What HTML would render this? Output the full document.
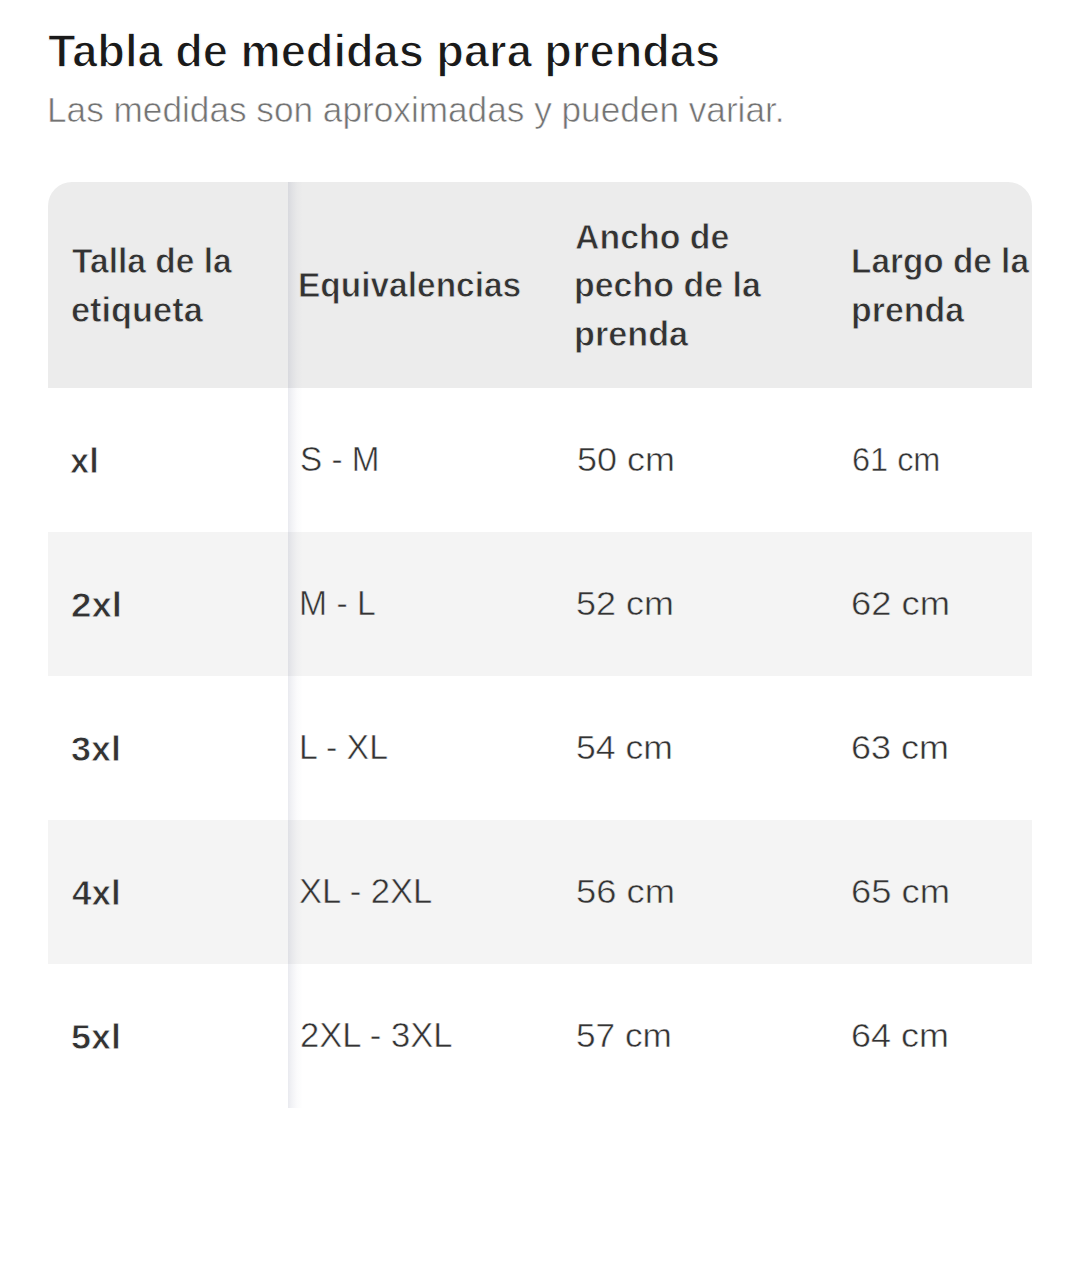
<!DOCTYPE html>
<html>
<head>
<meta charset="utf-8">
<style>
html,body{margin:0;padding:0;background:#fff;width:1080px;height:1285px;overflow:hidden;}
body{font-family:"Liberation Sans",sans-serif;position:relative;}
.t{position:absolute;white-space:nowrap;line-height:1;}
.title{font-weight:bold;color:#1a1a1a;}
.sub{color:#737373;}
#tbl{position:absolute;left:48px;top:182px;width:984px;height:926px;overflow:hidden;border-radius:24px 24px 0 0;}
.hdr{position:absolute;left:0;top:0;width:984px;height:206px;background:#ececec;}
.row{position:absolute;left:0;width:984px;height:144px;background:#fff;}
.row.g{background:#f4f4f4;}
.sh{position:absolute;left:240px;top:0;width:16px;height:926px;background:linear-gradient(to right,rgba(40,50,100,0.10) 0px,rgba(40,50,100,0.06) 4px,rgba(40,50,100,0.02) 9px,rgba(40,50,100,0) 15px);}
.h{font-weight:bold;color:#333;}
.c{color:#333;}
.b{font-weight:bold;color:#333;}
.title{-webkit-text-stroke:1.3px #fff;}
.sub{-webkit-text-stroke:0.6px #fff;}
.h{-webkit-text-stroke:0.76px #ececec;}
.b{-webkit-text-stroke:0.76px #fff;}
.c{-webkit-text-stroke:0.5px #fff;}
.b.gr{-webkit-text-stroke-color:#f4f4f4;}
.c.gr{-webkit-text-stroke-color:#f4f4f4;}

</style>
</head>
<body>
<div class="t title" style="left:48.00px;top:27.75px;font-size:46.48px"><span style="display:inline-block;transform:scaleX(0.9723);transform-origin:0 0">Tabla de medidas para prendas</span></div>
<div class="t sub" style="left:47.20px;top:92.10px;font-size:35.14px"><span style="display:inline-block;transform:scaleX(1.0020);transform-origin:0 0">Las medidas son aproximadas y pueden variar.</span></div>
<div id="tbl">
<div class="hdr"></div>
<div class="row" style="top:206px"></div>
<div class="row g" style="top:350px"></div>
<div class="row" style="top:494px"></div>
<div class="row g" style="top:638px"></div>
<div class="row" style="top:782px"></div>
<div class="t h" style="left:24.00px;top:61.80px;font-size:35.66px"><span style="display:inline-block;transform:scaleX(0.9402);transform-origin:0 0">Talla de la</span></div>
<div class="t h" style="left:23.00px;top:110.90px;font-size:35.43px"><span style="display:inline-block;transform:scaleX(0.9706);transform-origin:0 0">etiqueta</span></div>
<div class="t h" style="left:250.00px;top:85.35px;font-size:35.33px"><span style="display:inline-block;transform:scaleX(0.9473);transform-origin:0 0">Equivalencias</span></div>
<div class="t h" style="left:527.00px;top:36.70px;font-size:35.21px"><span style="display:inline-block;transform:scaleX(0.9620);transform-origin:0 0">Ancho de</span></div>
<div class="t h" style="left:526.00px;top:85.70px;font-size:35.43px"><span style="display:inline-block;transform:scaleX(0.9584);transform-origin:0 0">pecho de la</span></div>
<div class="t h" style="left:526.00px;top:135.10px;font-size:35.43px"><span style="display:inline-block;transform:scaleX(0.9658);transform-origin:0 0">prenda</span></div>
<div class="t h" style="left:803.00px;top:62.10px;font-size:35.51px"><span style="display:inline-block;transform:scaleX(0.9396);transform-origin:0 0">Largo de la</span></div>
<div class="t h" style="left:803.00px;top:111.10px;font-size:35.43px"><span style="display:inline-block;transform:scaleX(0.9568);transform-origin:0 0">prenda</span></div>
<div class="t b" style="left:22.00px;top:261.50px;font-size:35.81px"><span style="display:inline-block;transform:scaleX(0.9617);transform-origin:0 0">xl</span></div>
<div class="t c" style="left:252.00px;top:259.90px;font-size:34.59px"><span style="display:inline-block;transform:scaleX(0.9612);transform-origin:0 0">S - M</span></div>
<div class="t c" style="left:528.50px;top:259.70px;font-size:34.00px"><span style="display:inline-block;transform:scaleX(1.0565);transform-origin:0 0">50 cm</span></div>
<div class="t c" style="left:804.00px;top:259.70px;font-size:34.00px"><span style="display:inline-block;transform:scaleX(0.9549);transform-origin:0 0">61 cm</span></div>
<div class="t b gr" style="left:23.00px;top:405.50px;font-size:35.81px"><span style="display:inline-block;transform:scaleX(1.0261);transform-origin:0 0">2xl</span></div>
<div class="t c gr" style="left:251.00px;top:403.90px;font-size:34.59px"><span style="display:inline-block;transform:scaleX(0.9732);transform-origin:0 0">M - L</span></div>
<div class="t c gr" style="left:528.00px;top:403.70px;font-size:34.00px"><span style="display:inline-block;transform:scaleX(1.0571);transform-origin:0 0">52 cm</span></div>
<div class="t c gr" style="left:803.00px;top:403.70px;font-size:34.00px"><span style="display:inline-block;transform:scaleX(1.0683);transform-origin:0 0">62 cm</span></div>
<div class="t b" style="left:23.00px;top:549.50px;font-size:35.81px"><span style="display:inline-block;transform:scaleX(1.0034);transform-origin:0 0">3xl</span></div>
<div class="t c" style="left:251.00px;top:547.90px;font-size:34.59px"><span style="display:inline-block;transform:scaleX(0.9776);transform-origin:0 0">L - XL</span></div>
<div class="t c" style="left:528.00px;top:547.70px;font-size:34.00px"><span style="display:inline-block;transform:scaleX(1.0456);transform-origin:0 0">54 cm</span></div>
<div class="t c" style="left:803.00px;top:547.70px;font-size:34.00px"><span style="display:inline-block;transform:scaleX(1.0569);transform-origin:0 0">63 cm</span></div>
<div class="t b gr" style="left:24.00px;top:693.50px;font-size:35.81px"><span style="display:inline-block;transform:scaleX(0.9806);transform-origin:0 0">4xl</span></div>
<div class="t c gr" style="left:251.00px;top:691.90px;font-size:34.59px"><span style="display:inline-block;transform:scaleX(1.0002);transform-origin:0 0">XL - 2XL</span></div>
<div class="t c gr" style="left:528.00px;top:691.70px;font-size:34.00px"><span style="display:inline-block;transform:scaleX(1.0683);transform-origin:0 0">56 cm</span></div>
<div class="t c gr" style="left:803.00px;top:691.70px;font-size:34.00px"><span style="display:inline-block;transform:scaleX(1.0683);transform-origin:0 0">65 cm</span></div>
<div class="t b" style="left:23.00px;top:837.50px;font-size:35.81px"><span style="display:inline-block;transform:scaleX(1.0034);transform-origin:0 0">5xl</span></div>
<div class="t c" style="left:252.00px;top:835.90px;font-size:34.59px"><span style="display:inline-block;transform:scaleX(1.0002);transform-origin:0 0">2XL - 3XL</span></div>
<div class="t c" style="left:528.00px;top:835.70px;font-size:34.00px"><span style="display:inline-block;transform:scaleX(1.0344);transform-origin:0 0">57 cm</span></div>
<div class="t c" style="left:803.00px;top:835.70px;font-size:34.00px"><span style="display:inline-block;transform:scaleX(1.0569);transform-origin:0 0">64 cm</span></div>
<div class="sh"></div>
</div>
</body>
</html>
